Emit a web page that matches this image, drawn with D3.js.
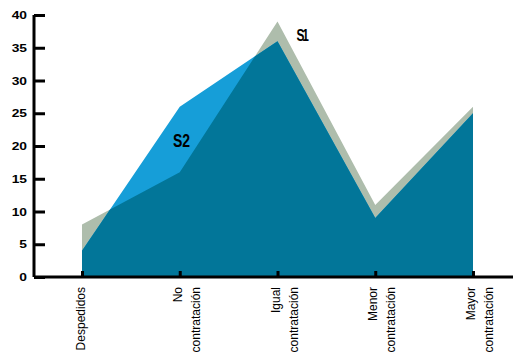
<!DOCTYPE html>
<html><head><meta charset="utf-8">
<script src="https://cdn.jsdelivr.net/npm/d3@7"></script>
<style>
body{margin:0;background:#fff;}
text{font-family:"Liberation Sans",Arial,sans-serif;}
</style></head>
<body><svg id="c" width="513" height="354"></svg>
<script>
const categories = ["Despedidos", "No contratación", "Igual contratación", "Menor contratación", "Mayor contratación"];
const labelLines = [["Despedidos"], ["No", "contratación"], ["Igual", "contratación"], ["Menor", "contratación"], ["Mayor", "contratación"]];
const s1 = [8, 16, 39, 11, 26];
const s2 = [4, 26, 36, 9, 25];
const yTicks = [0, 5, 10, 15, 20, 25, 30, 35, 40];

const svg = d3.select("#c");
const x = d3.scalePoint().domain(categories).range([82, 473]);
const y = d3.scaleLinear().domain([0, 40]).range([277, 15]);

const area = d3.area().x((d, i) => x(categories[i])).y0(y(0)).y1(d => y(d));

const defs = svg.append("defs");
defs.append("clipPath").attr("id", "clipS1").append("path").attr("d", area(s1));

svg.append("path").attr("d", area(s1)).attr("fill", "#aebdac");
svg.append("path").attr("d", area(s2)).attr("fill", "#169ed8");
svg.append("path").attr("d", area(s2)).attr("fill", "#027699").attr("clip-path", "url(#clipS1)");

// axes
const yAxis = d3.axisLeft(y).tickValues(yTicks).tickSize(-11).tickPadding(7).tickFormat(d3.format("d"));
const gy = svg.append("g").attr("transform", "translate(34,0)").call(yAxis);
gy.select(".domain").attr("d", `M0,${y(40)}V${y(0)}`).attr("stroke", "#000").attr("stroke-width", 3);
gy.selectAll(".tick line").attr("stroke", "#000").attr("stroke-width", 3);
gy.selectAll(".tick text").attr("font-size", 11.5).attr("font-weight", "bold").attr("fill", "#000")
  .style("font-family", '"Liberation Sans",Arial,sans-serif')
  .attr("transform", "scale(1.2,1)").attr("x", -7 / 1.2);

const xAxis = d3.axisBottom(x).tickSize(-6).tickFormat("");
const gx = svg.append("g").attr("transform", `translate(0,${y(0)})`).call(xAxis);
gx.select(".domain").attr("d", "M34,0H513").attr("stroke", "#000").attr("stroke-width", 3);
gx.selectAll(".tick line").attr("stroke", "#000").attr("stroke-width", 3);

// x labels rotated
categories.forEach((c, i) => {
  const lines = labelLines[i];
  const cx = x(c);
  const offsets = lines.length === 1 ? [3] : [2, 20];
  lines.forEach((t, j) => {
    svg.append("text")
      .attr("transform", `translate(${cx + offsets[j]},287) rotate(-90)`)
      .attr("text-anchor", "end")
      .attr("font-size", 12)
      .attr("fill", "#000")
      .text(t);
  });
});

// series labels
svg.append("text").attr("transform", "translate(296.5,41) scale(0.72,1)").attr("font-size", 16.5)
  .attr("letter-spacing", -3).attr("font-weight", "bold").text("S1");
svg.append("text").attr("transform", "translate(173,146.5) scale(0.8,1)").attr("font-size", 17.5).attr("font-weight", "bold").text("S2");
</script></body></html>
